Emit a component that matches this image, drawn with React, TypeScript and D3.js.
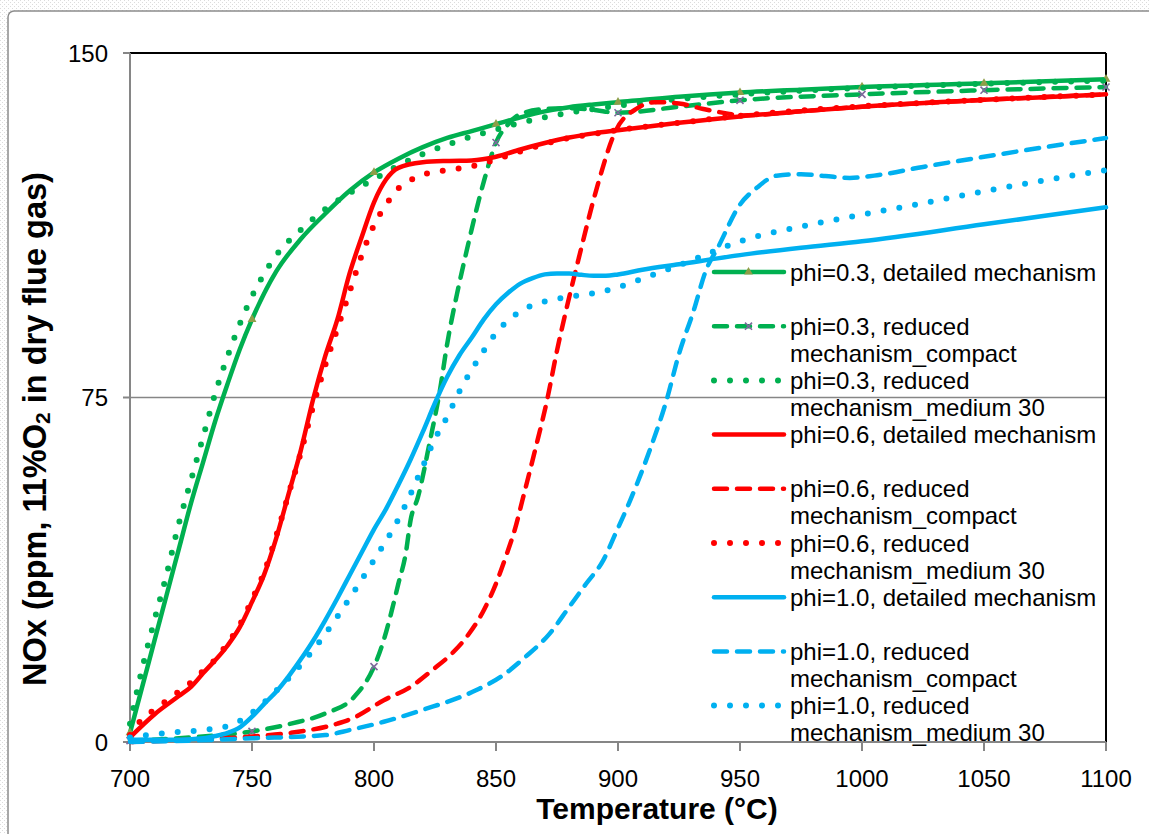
import React, { useEffect, useRef } from "react";
import * as d3 from "d3";

const W = 1149;
const H = 834;

const X_TICKS = [700, 750, 800, 850, 900, 950, 1000, 1050, 1100];
const Y_TICKS = [0, 75, 150];
const MARKER_TEMPS = [700, 750, 800, 850, 900, 950, 1000, 1050, 1100];

// phi=0.3 detailed
const G1_T = [700, 705, 710, 715, 720, 725, 730, 735, 740, 745, 750, 760, 770, 780, 790, 800, 810, 820, 830, 840, 850, 860, 870, 880, 890, 900, 925, 950, 975, 1000, 1050, 1100];
const G1_V = [2, 12, 22, 32, 42, 52, 61, 70, 78, 85.5, 92, 102.5, 109.5, 115, 120, 124, 127, 129.5, 131.5, 133, 134.5, 136, 137.3, 138.2, 138.8, 139.3, 140.5, 141.4, 142, 142.6, 143.4, 144.3];
// phi=0.3 compact
const G2_T = [700, 725, 750, 766, 780, 792, 800, 804, 807, 810, 813, 815, 818, 823, 827, 830, 834, 838, 845, 850, 855, 860, 870, 880, 890, 900, 925, 950, 1000, 1050, 1100];
const G2_V = [0.3, 1, 2.3, 4, 6.2, 9.9, 16.4, 22.2, 28, 34.5, 41, 48.3, 53.3, 65.7, 76.5, 86.7, 97.5, 107, 122, 130.5, 134.5, 136.7, 137.8, 138, 137.6, 137, 138.3, 139.7, 141, 141.9, 142.6];
// phi=0.3 medium 30
const G3_T = [700, 705, 710, 715, 720, 725, 730, 735, 740, 745, 750, 760, 770, 780, 790, 800, 810, 820, 830, 840, 850, 860, 870, 880, 890, 900, 925, 950, 1000, 1050, 1100];
const G3_V = [4, 16, 26.5, 36.5, 47.5, 57, 66.5, 76, 84, 91, 97, 106, 111.5, 116, 119.5, 122.5, 125.5, 128, 130, 131.8, 133.3, 134.8, 136, 137, 137.8, 138.5, 140, 141, 142.4, 143.3, 144];

// phi=0.6 detailed
const R1_T = [700, 710, 720, 725, 730, 740, 745, 750, 755, 760, 765, 770, 775, 780, 785, 790, 795, 800, 805, 810, 820, 830, 840, 850, 860, 870, 880, 890, 900, 925, 950, 975, 1000, 1050, 1100];
const R1_V = [1, 6, 10, 12, 15, 21, 25, 30.5, 36.5, 44.5, 54, 63.5, 74.5, 84, 92, 102, 110, 117.5, 122.5, 125, 126.2, 126.5, 126.6, 127.4, 129, 130.4, 131.6, 132.5, 133.2, 134.8, 136.2, 137.3, 138.3, 139.8, 141];
// phi=0.6 compact
const R2_T = [700, 725, 750, 766, 785, 791, 804, 815, 824, 832, 838, 845, 850, 854, 858, 861, 866, 871, 875, 879, 884, 891, 899, 908, 915, 925, 935, 945, 950, 975, 1000, 1050, 1100];
const R2_V = [0, 0.5, 1.2, 2, 4, 5.1, 9.1, 12, 15.7, 19.3, 22.9, 28.7, 34.5, 40.3, 46.8, 53, 63.5, 74.6, 85.2, 94.6, 105.5, 120, 133, 138, 139.3, 139, 137.8, 136.8, 136.4, 137.3, 138.3, 139.8, 141];
// phi=0.6 medium 30
const R3_T = [700, 705, 710, 715, 720, 725, 730, 735, 740, 745, 750, 755, 760, 765, 770, 775, 780, 785, 790, 795, 800, 805, 810, 815, 820, 830, 840, 850, 860, 870, 880, 890, 900, 925, 950, 1000, 1050, 1100];
const R3_V = [1.5, 5, 7, 9, 11, 13, 15.5, 18, 21.5, 25.5, 31, 37, 45, 54, 63, 73, 82, 90, 98, 106, 112.5, 117, 120.5, 122.3, 123.5, 124.5, 125.3, 126.8, 128.6, 130.2, 131.5, 132.4, 133.2, 134.8, 136.3, 138.4, 139.8, 141];

// phi=1.0 detailed
const B1_T = [700, 710, 720, 730, 735, 740, 745, 750, 755, 760, 765, 770, 775, 780, 785, 790, 795, 800, 805, 810, 815, 820, 825, 830, 835, 840, 845, 850, 855, 860, 865, 870, 875, 880, 885, 890, 895, 900, 910, 925, 950, 975, 1000, 1050, 1100];
const B1_V = [0.5, 0.5, 0.5, 0.8, 1.3, 2, 3.2, 5.5, 8.3, 11, 14.3, 18, 22, 26.5, 31.3, 36.3, 41.3, 46.3, 50.8, 56, 61.5, 67.5, 73.8, 79.5, 84.2, 88, 92, 95.3, 97.8, 99.8, 101, 101.8, 102, 102, 101.7, 101.5, 101.5, 101.8, 102.8, 104, 106, 107.6, 109, 112.7, 116.4];
// phi=1.0 compact
const B2_T = [700, 725, 750, 780, 790, 804, 820, 842, 852, 862, 872, 880, 887, 894, 899, 905, 913, 920, 925, 931, 936, 941, 950, 957, 965, 975, 985, 995, 1005, 1025, 1050, 1075, 1100];
const B2_V = [0, 0.3, 0.8, 1.5, 2.6, 4.4, 7, 11.3, 14.2, 18.5, 23.6, 29.4, 34.5, 39.6, 45.4, 52.6, 63.5, 74.6, 84.5, 93.9, 102.6, 107.7, 117, 120.7, 123.3, 123.6, 123.2, 122.8, 123.3, 125.2, 127.4, 129.5, 131.5];
// phi=1.0 medium 30
const B3_T = [700, 710, 720, 730, 740, 745, 750, 760, 770, 780, 790, 800, 810, 815, 820, 825, 830, 835, 840, 845, 850, 860, 870, 880, 890, 900, 910, 920, 930, 940, 950, 975, 1000, 1025, 1050, 1075, 1100];
const B3_V = [1, 1.7, 2.2, 2.6, 3.5, 4.6, 6.4, 11.2, 16.8, 23.5, 31.3, 39.6, 48.5, 54, 60, 66, 70.8, 76.3, 81, 85.2, 89, 93.8, 95.9, 96.9, 97.7, 99, 100.9, 102.8, 104.8, 107, 109, 112.2, 114.8, 117.3, 119.9, 122.3, 124.5];

const LEGEND_LABELS = [
  ["phi=0.3, detailed mechanism"],
  ["phi=0.3, reduced", "mechanism_compact"],
  ["phi=0.3, reduced", "mechanism_medium 30"],
  ["phi=0.6, detailed mechanism"],
  ["phi=0.6, reduced", "mechanism_compact"],
  ["phi=0.6, reduced", "mechanism_medium 30"],
  ["phi=1.0, detailed mechanism"],
  ["phi=1.0, reduced", "mechanism_compact"],
  ["phi=1.0, reduced", "mechanism_medium 30"],
];

const GREEN = "#00B050";
const RED = "#FF0000";
const BLUE = "#00B0F0";

type Style = "solid" | "dash" | "dot";
interface Series { t: number[]; v: number[]; color: string; style: Style; marker?: "tri" | "x"; label: string[] }

const SERIES: Series[] = [
  { t: G1_T, v: G1_V, color: GREEN, style: "solid", marker: "tri", label: LEGEND_LABELS[0] },
  { t: G2_T, v: G2_V, color: GREEN, style: "dash", marker: "x", label: LEGEND_LABELS[1] },
  { t: G3_T, v: G3_V, color: GREEN, style: "dot", label: LEGEND_LABELS[2] },
  { t: R1_T, v: R1_V, color: RED, style: "solid", label: LEGEND_LABELS[3] },
  { t: R2_T, v: R2_V, color: RED, style: "dash", label: LEGEND_LABELS[4] },
  { t: R3_T, v: R3_V, color: RED, style: "dot", label: LEGEND_LABELS[5] },
  { t: B1_T, v: B1_V, color: BLUE, style: "solid", label: LEGEND_LABELS[6] },
  { t: B2_T, v: B2_V, color: BLUE, style: "dash", label: LEGEND_LABELS[7] },
  { t: B3_T, v: B3_V, color: BLUE, style: "dot", label: LEGEND_LABELS[8] },
];

const FONT = "'Liberation Sans', Arial, sans-serif";

function applyStyle(sel: any, s: Series) {
  sel.attr("fill", "none").attr("stroke", s.color).attr("stroke-linecap", "round").attr("stroke-linejoin", "round");
  if (s.style === "solid") sel.attr("stroke-width", 4.5);
  if (s.style === "dash") sel.attr("stroke-width", 4.5).attr("stroke-dasharray", "13,10");
  if (s.style === "dot") sel.attr("stroke-width", 6).attr("stroke-dasharray", "0,16");
}

export default function App() {
  const ref = useRef<SVGSVGElement | null>(null);

  useEffect(() => {
    const svg = d3.select(ref.current);
    svg.selectAll("*").remove();

    const left = 130, right = 1106, top = 53, bottom = 742;
    const x = d3.scaleLinear().domain([700, 1100]).range([left, right]);
    const y = d3.scaleLinear().domain([0, 150]).range([bottom, top]);

    const defs = svg.append("defs");
    const pat = defs.append("pattern").attr("id", "bgpat").attr("width", 4).attr("height", 4).attr("patternUnits", "userSpaceOnUse");
    pat.append("rect").attr("width", 4).attr("height", 4).attr("fill", "#ffffff");
    pat.append("rect").attr("width", 1).attr("height", 1).attr("fill", "#dcdcdc");
    pat.append("rect").attr("x", 2).attr("y", 2).attr("width", 1).attr("height", 1).attr("fill", "#dcdcdc");

    svg.append("rect").attr("width", W).attr("height", H).attr("fill", "url(#bgpat)");
    svg.append("rect").attr("x", 8).attr("y", 11).attr("width", W + 20).attr("height", H + 20)
      .attr("rx", 6).attr("fill", "#ffffff").attr("stroke", "#8c8c8c").attr("stroke-width", 1.5);

    // gridline
    svg.append("line").attr("x1", left).attr("x2", right).attr("y1", y(75)).attr("y2", y(75))
      .attr("stroke", "#868686").attr("stroke-width", 1.5);

    // plot border (top/right black)
    svg.append("line").attr("x1", left).attr("x2", right).attr("y1", top).attr("y2", top).attr("stroke", "#000").attr("stroke-width", 2);
    svg.append("line").attr("x1", right).attr("x2", right).attr("y1", top).attr("y2", bottom).attr("stroke", "#000").attr("stroke-width", 2);

    // axes
    const ax = svg.append("g").attr("stroke", "#868686").attr("stroke-width", 2);
    ax.append("line").attr("x1", left).attr("x2", left).attr("y1", top).attr("y2", bottom);
    ax.append("line").attr("x1", left).attr("x2", right).attr("y1", bottom).attr("y2", bottom);
    Y_TICKS.forEach((t) => {
      ax.append("line").attr("x1", left - 7).attr("x2", left).attr("y1", y(t)).attr("y2", y(t));
    });
    X_TICKS.forEach((t) => {
      ax.append("line").attr("x1", x(t)).attr("x2", x(t)).attr("y1", bottom).attr("y2", bottom + 9);
    });

    const lab = svg.append("g").attr("font-family", FONT).attr("font-size", 24).attr("fill", "#000");
    Y_TICKS.forEach((t) => {
      lab.append("text").attr("x", 108).attr("y", y(t)).attr("text-anchor", "end").attr("dominant-baseline", "central").text(String(t));
    });
    X_TICKS.forEach((t) => {
      lab.append("text").attr("x", x(t)).attr("y", 778).attr("text-anchor", "middle").attr("dominant-baseline", "central").text(String(t));
    });

    // axis titles
    svg.append("text").attr("x", 657).attr("y", 808).attr("text-anchor", "middle").attr("dominant-baseline", "central")
      .attr("font-family", FONT).attr("font-size", 30).attr("font-weight", "bold").text("Temperature (°C)");
    const yt = svg.append("text").attr("transform", `translate(35,429) rotate(-90)`)
      .attr("text-anchor", "middle").attr("dominant-baseline", "central")
      .attr("font-family", FONT).attr("font-size", 32.5).attr("font-weight", "bold");
    yt.append("tspan").text("NOx (ppm, 11%O");
    yt.append("tspan").attr("font-size", 21).attr("dy", 7).text("2");
    yt.append("tspan").attr("dy", -7).text(" in dry flue gas)");

    const line = d3.line<[number, number]>().x((d) => x(d[0])).y((d) => y(d[1])).curve(d3.curveMonotoneX);
    const triPath = d3.symbol().type(d3.symbolTriangle).size(34)();
    const xPath = d3.symbol().type(d3.symbolTimes).size(34)();

    const drawMarker = (g: any, s: Series, cx: number, cy: number) => {
      if (s.marker === "tri") {
        g.append("path").attr("d", triPath).attr("transform", `translate(${cx},${cy})`).attr("fill", "#8E9E48");
      } else if (s.marker === "x") {
        g.append("path").attr("d", xPath).attr("transform", `translate(${cx},${cy})`).attr("fill", "none").attr("stroke", "#7E6A9C").attr("stroke-width", 1.6);
      }
    };

    SERIES.forEach((s) => {
      const pts: [number, number][] = s.t.map((t, i) => [t, s.v[i]]);
      const g = svg.append("g");
      applyStyle(g.append("path").attr("d", line(pts)), s);
      if (s.marker) {
        MARKER_TEMPS.forEach((mt) => {
          const i = s.t.indexOf(mt);
          if (i >= 0) drawMarker(g, s, x(mt), y(s.v[i]));
        });
      }
    });

    // legend
    const lg = svg.append("g");
    const ly0 = 272, lstep = 54.2, lx1 = 714, lx2 = 784, tx = 790;
    SERIES.forEach((s, i) => {
      const ly = ly0 + i * lstep;
      applyStyle(lg.append("line").attr("x1", lx1).attr("x2", lx2).attr("y1", ly).attr("y2", ly), s);
      drawMarker(lg, s, (lx1 + lx2) / 2 - 0.5, ly);
      s.label.forEach((l, j) => {
        lg.append("text").attr("x", tx).attr("y", ly + j * 27).attr("dominant-baseline", "central")
          .attr("font-family", FONT).attr("font-size", 24).attr("fill", "#000").text(l);
      });
    });
  }, []);

  return (
    <div style={{ position: "absolute", left: 0, top: 0 }}>
      <svg ref={ref} width={W} height={H} style={{ display: "block" }} />
    </div>
  );
}
